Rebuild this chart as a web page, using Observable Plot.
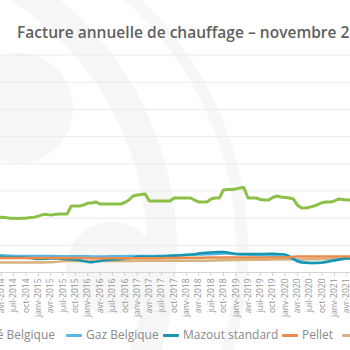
<!DOCTYPE html>
<html><head><meta charset="utf-8">
<script src="https://cdn.jsdelivr.net/npm/d3@7"></script>
<script src="https://cdn.jsdelivr.net/npm/@observablehq/plot@0.6"></script>
<style>
html,body{margin:0;padding:0;background:#fff;}
#wrap{position:relative;width:350px;height:350px;overflow:hidden;font-family:"Open Sans",sans-serif;}
#bg{position:absolute;left:0;top:0;}
#chart{position:absolute;left:0;top:0;}
#title{position:absolute;left:17px;top:22px;white-space:nowrap;font-size:15.5px;letter-spacing:0.02px;font-weight:600;color:#606060;line-height:20px;}
.leg{position:absolute;top:326px;white-space:nowrap;font-size:12px;color:#8a8a8a;display:flex;align-items:center;line-height:18px;}
.leg i{display:inline-block;width:16px;height:3px;margin-right:4px;border-radius:1px;}
</style></head><body>
<div id="wrap">
<svg id="bg" width="350" height="350">
  <circle cx="18" cy="108" r="55" fill="#f6f6f6"/>
  <circle cx="-150" cy="250" r="312" fill="none" stroke="#f6f6f6" stroke-width="30"/>
  <circle cx="-100" cy="250" r="342" fill="none" stroke="#f7f7f7" stroke-width="12"/>
  <circle cx="112" cy="268" r="46" fill="#f6f6f6"/>
</svg>
<div id="chart"></div>
<div id="title"></div>
<div id="legend"></div>
</div>
<script>
const title = "Facture annuelle de chauffage – novembre 2021";
const seriesNames = ["Électricité Belgique", "Gaz Belgique", "Mazout standard", "Pellet", "Propane"];
const seriesColors = ["#8dc046", "#5ab8e6", "#1595ae", "#ea8a4e", "#d8b27c"];
const startMonth = "2014-03", endMonth = "2021-05";
const tickLabels = ["avr-2014","juil-2014","oct-2014","janv-2015","avr-2015","juil-2015","oct-2015",
 "janv-2016","avr-2016","juil-2016","oct-2016","janv-2017","avr-2017","juil-2017","oct-2017",
 "janv-2018","avr-2018","juil-2018","oct-2018","janv-2019","avr-2019","juil-2019","oct-2019",
 "janv-2020","avr-2020","juil-2020","oct-2020","janv-2021","avr-2021"];
const yTicks = [0,2000,4000,6000,8000,10000,12000,14000,16000];

const elec = [4070,4070,4040,4000,4000,3980,4000,4000,4040,4070,
 4150,4260,4260,4220,4260,4300,4300,4300,4890,4890,4890,4960,
 5110,5110,5190,5040,5040,5040,5040,5040,5040,5150,5330,5630,
 5700,5740,5780,5260,5260,5260,5260,5260,5260,5480,5480,5480,
 5480,5480,5330,5190,5190,5190,5410,5480,5480,6070,6110,6110,
 6150,6220,6260,5480,5480,5480,5370,5330,5330,5520,5630,5560,
 5520,5480,5410,4960,4740,4740,4810,4890,5000,5150,5190,5190,
 5260,5410,5370,5330,5330];
const gaz = [1260,1260,1250,1240,1230,1220,1220,1220,1220,1220,
 1220,1220,1220,1220,1210,1200,1200,1200,1190,1190,1190,1190,
 1190,1180,1180,1180,1180,1190,1190,1190,1200,1200,1210,1220,
 1220,1220,1210,1210,1210,1220,1230,1240,1250,1260,1270,1280,
 1290,1300,1310,1320,1330,1340,1350,1360,1380,1400,1400,1380,
 1350,1330,1320,1300,1290,1280,1270,1260,1250,1230,1200,1170,
 1130,1080,1000,900,820,760,720,700,700,720,760,820,
 880,930,980,1030,1060];
const mazout = [1150,1150,1140,1140,1130,1120,1110,1090,1060,1020,
 990,1000,1020,1030,1040,1030,1000,970,950,930,900,850,
 780,760,800,850,900,920,930,950,980,1030,1060,1090,
 1160,1170,1170,1160,1160,1170,1180,1190,1210,1230,1250,1270,
 1300,1320,1350,1400,1430,1450,1470,1490,1500,1500,1470,1420,
 1380,1370,1370,1370,1370,1370,1370,1370,1380,1380,1370,1350,
 1320,1200,1000,820,740,710,700,700,710,740,800,850,
 900,960,1010,1040,1060];
const pellet = [1060,1060,1060,1060,1060,1060,1060,1060,1060,1060,
 1060,1060,1060,1060,1060,1060,1060,1060,1060,1060,1060,1060,
 1050,1050,1050,1050,1050,1050,1050,1050,1050,1050,1050,1050,
 1040,1040,1040,1040,1040,1050,1050,1060,1060,1070,1070,1080,
 1080,1090,1090,1090,1090,1100,1100,1100,1110,1110,1110,1110,
 1110,1110,1110,1110,1110,1110,1110,1110,1110,1110,1110,1110,
 1120,1130,1150,1170,1180,1180,1180,1180,1180,1180,1180,1180,
 1180,1180,1180,1180,1180];
const propane = [740,740,740,740,740,740,740,740,740,740,
 740,740,750,760,780,800,820,840,850,850,850,850,
 850,850,850,850,850,850,850,850,850,850,850,850,
 860,860,860,860,860,860,860,860,860,860,860,860,
 870,870,870,870,870,870,880,890,900,910,910,920,
 920,920,930,930,930,940,940,940,940,950,950,950,
 950,950,960,960,960,970,970,980,980,990,1000,1000,
 1010,1010,1010,1010,1010];

const months = d3.utcMonth.range(d3.utcParse("%Y-%m")(startMonth), d3.utcMonth.offset(d3.utcParse("%Y-%m")(endMonth), 1));
const seriesValues = [elec, gaz, mazout, pellet, propane];
const table = [];
seriesNames.forEach((s, k) => seriesValues[k].forEach((v, i) => table.push({series: s, date: months[i], value: v})));

const tickDates = tickLabels.map((_, i) => d3.utcMonth.offset(new Date(Date.UTC(2014, 3, 1)), 3 * i));
const labelOf = new Map(tickDates.map((d, i) => [+d, tickLabels[i]]));

const order = [4, 1, 2, 3, 0];
const lineMarks = order.map(k => Plot.line(table.filter(d => d.series === seriesNames[k]), {
  x: "date", y: "value", stroke: seriesColors[k], strokeWidth: k === 0 ? 3 : 2.5, clip: true
}));

const chart = Plot.plot({
  width: 350, height: 350,
  marginLeft: 0, marginRight: 0, marginTop: 54.5, marginBottom: 78,
  style: {background: "transparent", fontFamily: "Open Sans, sans-serif"},
  x: {type: "utc", domain: [new Date(Date.UTC(2014, 2, 26)), new Date(Date.UTC(2021, 3, 29))], axis: null},
  y: {domain: [0, 16000], axis: null},
  marks: [
    Plot.gridY(yTicks, {stroke: "#ebebeb", strokeOpacity: 1}),
    Plot.ruleY([0], {stroke: "#d6d6d6"}),
    Plot.axisX({ticks: tickDates, tickFormat: d => labelOf.get(+d), tickRotate: -90, tickSize: 4, tickPadding: 2,
      stroke: "#cfcfcf", fill: "#939393", fontSize: 8.5}),
    ...lineMarks
  ]
});
document.getElementById("chart").appendChild(chart);
document.getElementById("title").textContent = title;

const legPos = [{right: 295}, {left: 66}, {left: 163}, {left: 282}, {left: 342}];
const leg = document.getElementById("legend");
seriesNames.forEach((s, k) => {
  const d = document.createElement("div");
  d.className = "leg";
  if (legPos[k].right !== undefined) d.style.right = legPos[k].right + "px"; else d.style.left = legPos[k].left + "px";
  d.innerHTML = `<i style="background:${seriesColors[k]}"></i><span></span>`;
  d.querySelector("span").textContent = s;
  leg.appendChild(d);
});
</script>
</body></html>
